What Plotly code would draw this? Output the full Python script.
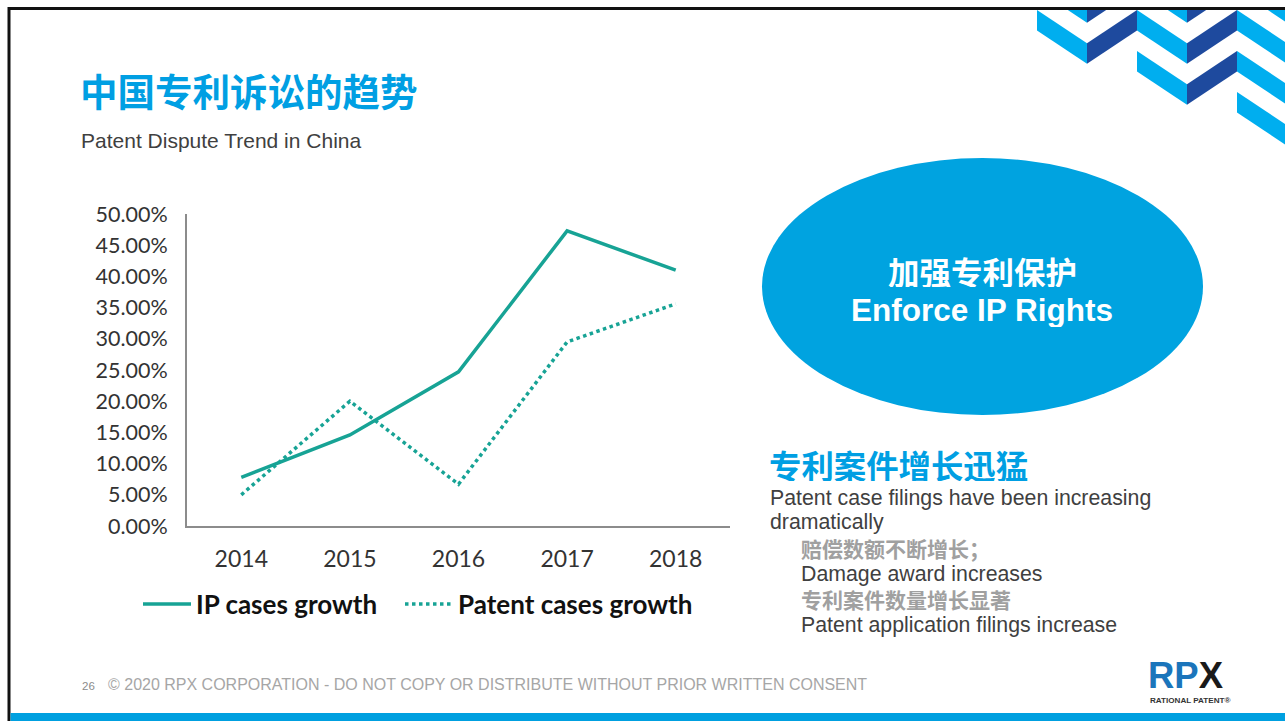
import plotly.graph_objects as go

W, H = 1285, 721

# Chart data
years = ["2014", "2015", "2016", "2017", "2018"]
ip_cases_growth = [7.8, 14.6, 24.7, 47.3, 41.0]
patent_cases_growth = [5.0, 20.0, 6.7, 29.5, 35.6]
y_ticks = [0, 5, 10, 15, 20, 25, 30, 35, 40, 45, 50]
y_tick_labels = [f"{v:.2f}%" for v in y_ticks]

TEAL = "#17A395"
BLUE = "#00A0E0"
LIGHT = "#00AEEF"
DARK = "#1E4A9E"


def px(x):
    return x / W


def py(y):
    return 1 - y / H


fig = go.Figure()
fig.add_trace(go.Scatter(
    x=years, y=ip_cases_growth, name="IP cases growth", mode="lines",
    line=dict(color=TEAL, width=3.5), legend="legend",
))
fig.add_trace(go.Scatter(
    x=years, y=patent_cases_growth, name="Patent cases growth", mode="lines",
    line=dict(color=TEAL, width=3.5, dash="dot"), legend="legend2",
))

shapes = []


def poly(points, color):
    d = "M " + " L ".join(f"{px(x):.5f},{py(y):.5f}" for x, y in points) + " Z"
    return dict(type="path", xref="paper", yref="paper", path=d,
                fillcolor=color, line=dict(width=0), layer="above")


# chevron pattern in the top-right corner
DROP, THICK = 33.3, 20.5
rows_per_col = {0: [-1, 0], 1: [-1, 0, 1], 2: [-1, 0, 1, 2]}
for c, rows in rows_per_col.items():
    L = 1037 + 100 * c
    for r in rows:
        T = 10 + 41 * r
        shapes.append(poly([(L, T), (L + 50, T + DROP), (L + 50, T + DROP + THICK), (L, T + THICK)], LIGHT))
        shapes.append(poly([(L + 50, T + DROP), (L + 100, T), (L + 100, T + THICK), (L + 50, T + DROP + THICK)], DARK))

# slide frame
shapes.append(dict(type="rect", xref="paper", yref="paper", x0=0, x1=1, y0=py(8), y1=1.05,
                   fillcolor="white", line=dict(width=0), layer="above"))
shapes.append(dict(type="line", xref="paper", yref="paper", x0=px(8), x1=1, y0=py(8.5), y1=py(8.5),
                   line=dict(color="#111111", width=3), layer="above"))
shapes.append(dict(type="line", xref="paper", yref="paper", x0=px(9), x1=px(9), y0=py(7), y1=-0.02,
                   line=dict(color="#111111", width=3), layer="above"))
shapes.append(dict(type="rect", xref="paper", yref="paper", x0=px(10.5), x1=1, y0=-0.02, y1=py(713),
                   fillcolor=BLUE, line=dict(width=0), layer="above"))

# ellipse callout
shapes.append(dict(type="circle", xref="paper", yref="paper",
                   x0=px(762), x1=px(1203), y0=py(415), y1=py(158),
                   fillcolor="#00A3E0", line=dict(width=0), layer="below"))

SANS = "Liberation Sans, Arial, sans-serif"
CJK = "Noto Sans CJK SC, sans-serif"
ann = []


def text(x, y, t, size, color, family=SANS, xanchor="left", weight=None, yanchor="middle", height=None):
    f = dict(size=size, color=color, family=family)
    if weight:
        f["weight"] = weight
    a = dict(x=px(x), y=py(y), xref="paper", yref="paper", text=t, showarrow=False,
             xanchor=xanchor, yanchor=yanchor, font=f)
    if height:
        a["height"] = height
        a["valign"] = "middle"
    ann.append(a)


text(78, 90, "中国专利诉讼的趋势", 37.5, "#009FE3", CJK, weight=700)
text(79, 140, "Patent Dispute Trend in China", 21, "#404040")
text(983, 270.5, "加强专利保护", 31.5, "white", CJK, xanchor="center", weight=700, height=33)
text(982, 309, "Enforce IP Rights", 31.5, "white", SANS, xanchor="center", weight=700, height=35)
text(767, 463.5, "专利案件增长迅猛", 32.4, "#009FE3", CJK, weight=700, height=34)
text(768, 497.5, "Patent case filings have been increasing", 21.3, "#404040")
text(768, 522, "dramatically", 21.3, "#404040")
text(799, 548, "赔偿数额不断增长；", 21, "#A0A0A0", CJK, weight=700)
text(799, 574, "Damage award increases", 21.3, "#404040")
text(799, 599, "专利案件数量增长显著", 21, "#A0A0A0", CJK, weight=700)
text(799, 625, "Patent application filings increase", 21.3, "#404040")
text(80, 686, "26", 11.5, "#8C8C8C")
text(106, 684, "© 2020 RPX CORPORATION - DO NOT COPY OR DISTRIBUTE WITHOUT PRIOR WRITTEN CONSENT", 16, "#A6A6A6")
text(1146, 675, "<span style='color:#1B75BB'>RP</span><span style='color:#1A1A1A'>X</span>", 36.5, "#1B75BB",
     "Liberation Sans, Arial", weight=700, height=29)
text(1148, 700.5, "RATIONAL PATENT®", 8.1, "#333333", "Liberation Sans, Arial", weight=700)

GEO = "Lato, sans-serif"
legend_style = dict(
    orientation="h", yanchor="middle", y=py(604), xanchor="left",
    font=dict(size=26, color="#111111", family=GEO, weight=700),
    itemwidth=48, bgcolor="rgba(0,0,0,0)", borderwidth=0,
)
fig.update_layout(
    width=W, height=H,
    margin=dict(l=0, r=0, t=0, b=0, autoexpand=False),
    paper_bgcolor="white", plot_bgcolor="white",
    shapes=shapes, annotations=ann,
    xaxis=dict(
        domain=[px(187), px(730)], range=[-0.5, 4.5], type="category", automargin=False,
        showgrid=False, zeroline=False, showline=True, linecolor="#8C8C8C", linewidth=2,
        ticks="", ticklabelstandoff=11,
        tickfont=dict(size=23, color="#333333", family=GEO),
    ),
    yaxis=dict(
        domain=[py(526), py(214)], range=[0, 50], automargin=False,
        tickvals=y_ticks, ticktext=y_tick_labels,
        showgrid=False, zeroline=False, showline=True, linecolor="#8C8C8C", linewidth=2,
        ticks="", ticklabelstandoff=13,
        tickfont=dict(size=21.5, color="#333333", family=GEO),
    ),
    showlegend=True,
    legend=dict(legend_style, x=px(138)),
    legend2=dict(legend_style, x=px(400)),
)

fig.write_html("out.html")
